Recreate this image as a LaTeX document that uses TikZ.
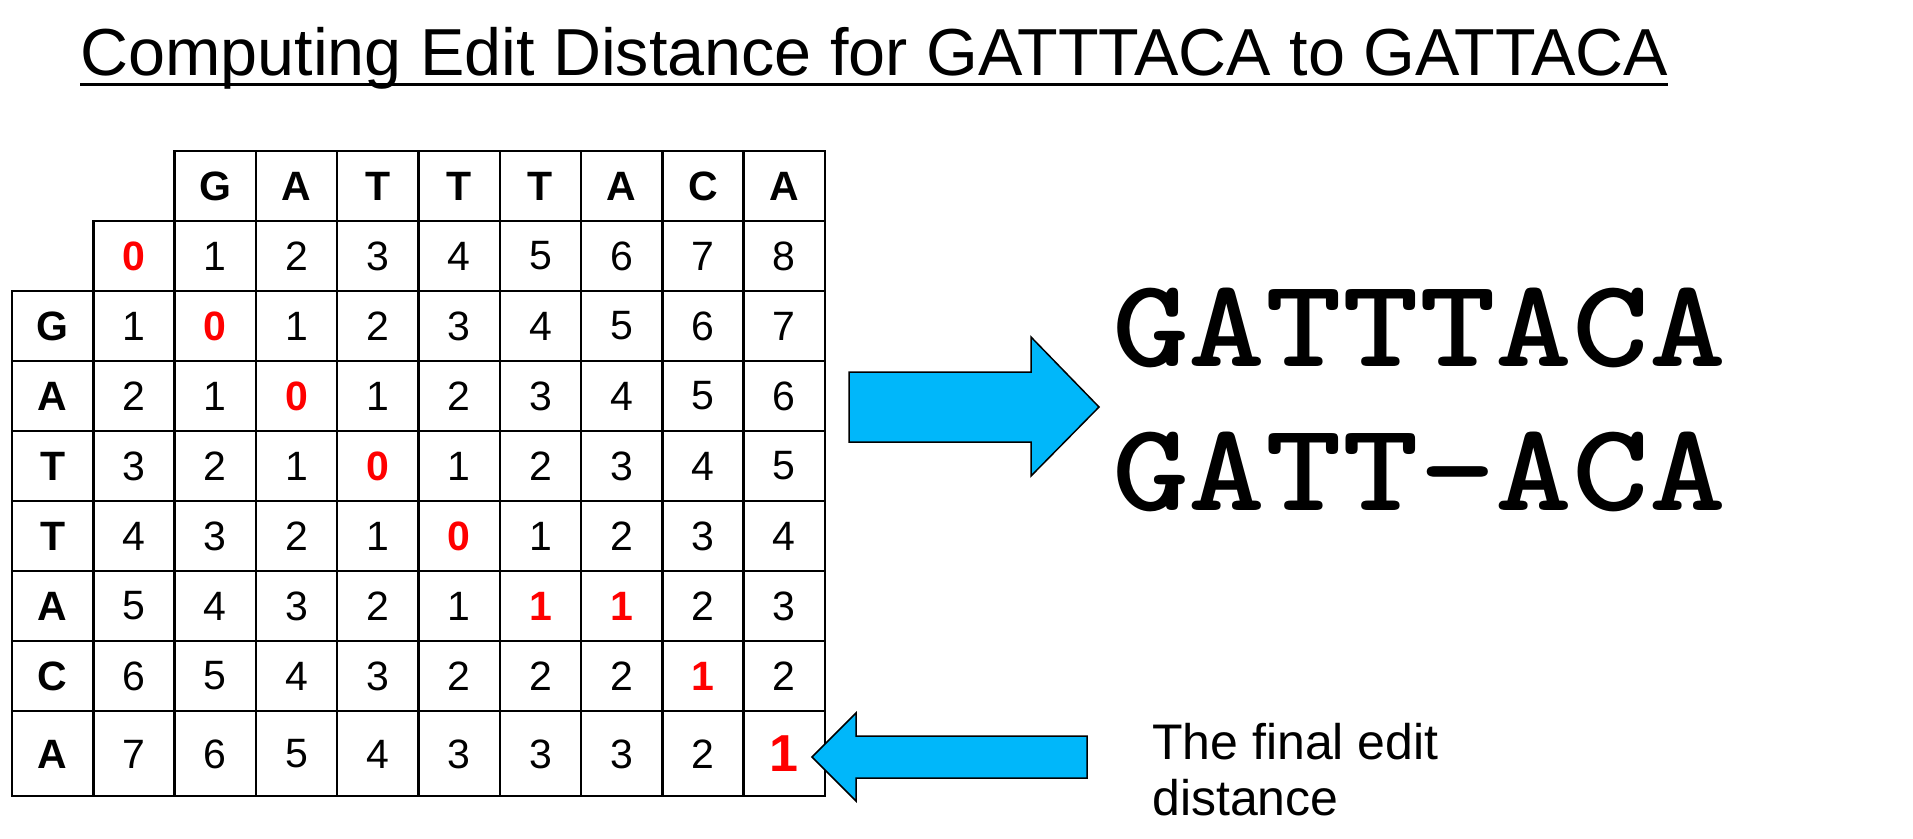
\documentclass[tikz,border=0pt]{standalone}
\usepackage{fontspec}
\setmainfont{Liberation Sans}
\newfontfamily\alignfont{lmmonolt10-bold.otf}[FakeStretch=1.16]
\definecolor{arrowblue}{RGB}{0,183,250}
\begin{document}
\begin{tikzpicture}[x=1pt,y=-1pt,
  gridline/.style={line width=2.5pt, line cap=rect},
  num/.style={inner sep=0pt, font=\fontsize{41}{41}\selectfont},
  lbl/.style={inner sep=0pt, font=\fontsize{41}{41}\selectfont\bfseries},
  hi/.style={inner sep=0pt, text=red, font=\fontsize{41}{41}\selectfont\bfseries},
  final/.style={inner sep=0pt, text=red, font=\fontsize{52}{52}\selectfont\bfseries},
  aligntext/.style={inner sep=0pt, anchor=base west, font=\fontsize{126}{126}\alignfont},
  blockarrow/.style={fill=arrowblue, draw=black, line width=1.5pt, line join=miter}]
\useasboundingbox[fill=white] (0,0) rectangle (1913,838);

% title
\node[inner sep=0pt, anchor=base west, font=\fontsize{66.5}{66.5}\selectfont] (title) at (80,75)
  {Computing Edit Distance for GATTTACA to GATTACA};
\draw[line width=3pt] ([yshift=-9pt]title.base west) -- ([yshift=-9pt]title.base east);

% grid lines
\def\cw{81.3}
\draw[gridline] (174.6,151) -- (825,151);
\draw[gridline] (93.3,221) -- (825,221);
\foreach \y in {291,361,431,501,571,641,711,796}
  \draw[gridline] (12,\y) -- (825,\y);
\draw[gridline] (12,291) -- (12,796);
\draw[gridline] (93.3,221) -- (93.3,796);
\foreach \k in {2,...,10}
  \draw[gridline] ({12+\cw*\k},151) -- ({12+\cw*\k},796);

% header letters
\foreach [count=\c from 2] \v in {G,A,T,T,T,A,C,A}
  \node[lbl] (h-\c) at ({12+\cw*(\c+0.5)},186) {\v};

% first number row
\foreach [count=\c from 1] \v/\s in {0/hi,1/num,2/num,3/num,4/num,5/num,6/num,7/num,8/num}
  \node[\s] (n-1-\c) at ({12+\cw*(\c+0.5)},256) {\v};

% rows with labels
\foreach \r/\yy/\lab/\vals in {
  2/326/G/{1/num,0/hi,1/num,2/num,3/num,4/num,5/num,6/num,7/num},
  3/396/A/{2/num,1/num,0/hi,1/num,2/num,3/num,4/num,5/num,6/num},
  4/466/T/{3/num,2/num,1/num,0/hi,1/num,2/num,3/num,4/num,5/num},
  5/536/T/{4/num,3/num,2/num,1/num,0/hi,1/num,2/num,3/num,4/num},
  6/606/A/{5/num,4/num,3/num,2/num,1/num,1/hi,1/hi,2/num,3/num},
  7/676/C/{6/num,5/num,4/num,3/num,2/num,2/num,2/num,1/hi,2/num},
  8/754/A/{7/num,6/num,5/num,4/num,3/num,3/num,3/num,2/num,1/final}}
{
  \node[lbl] (l-\r) at ({12+\cw*0.5},\yy) {\lab};
  \foreach [count=\c from 1] \v/\s in \vals
    \node[\s] (n-\r-\c) at ({12+\cw*(\c+0.5)},\yy) {\v};
}

% alignment
\node[aligntext] (al1) at (1112,366) {GATTTACA};
\node[aligntext] (al2) at (1112,510) {GATT-ACA};

% right block arrow
\coordinate (ra) at (849,407);
\draw[blockarrow] (ra) ++(0,-35) -- ++(182,0) -- ++(0,-35) -- (1099,407) -- (1031,476) -- (1031,442) -- (849,442) -- cycle;

% left block arrow
\coordinate (la) at (812,757);
\draw[blockarrow] (la) -- (856,713) -- (856,736) -- (1087,736) -- (1087,778) -- (856,778) -- (856,801) -- cycle;

% caption
\node[inner sep=0pt, anchor=base west, align=left, font=\fontsize{50}{56}\selectfont] (cap) at (1152,815) {The final edit\\distance};
\end{tikzpicture}
\end{document}
